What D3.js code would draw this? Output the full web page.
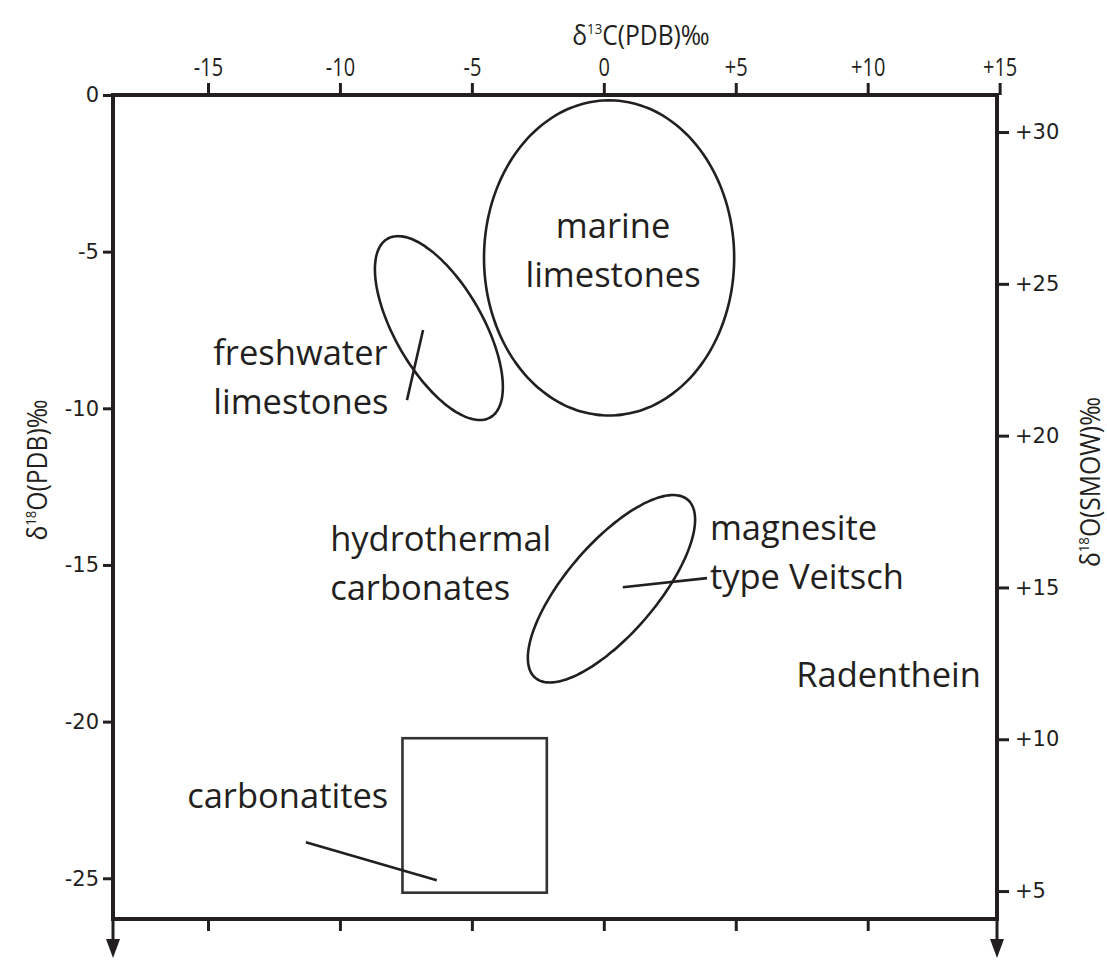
<!DOCTYPE html>
<html>
<head>
<meta charset="utf-8">
<script src="https://cdn.jsdelivr.net/npm/d3@7"></script>
<style>
  body { margin: 0; background: #fff; }
  svg { display: block; }
</style>
</head>
<body>
<svg width="1107" height="963"></svg>
<script>
var svg = d3.select("svg");

// axes
var xDomain = [-18.6, 14.9];        // d13C PDB
var yDomain = [0, -26.3];           // d18O PDB
var smowDomain = [31.22, 4.08];     // d18O SMOW
var xTicks = [-15, -10, -5, 0, 5, 10, 15];
var yTicks = [0, -5, -10, -15, -20, -25];
var smowTicks = [30, 25, 20, 15, 10, 5];

// fields: center, semi-axis vectors (data units)
var ellipses = [
    { name: "marine", c: [0.2, -5.2], u: [4.74, 0], v: [0, 5.03] },
    { name: "freshwater", c: [-6.25, -7.44], u: [1.95, -2.85], v: [-1.44, -0.70] },
    { name: "magnesite", c: [0.29, -15.76], u: [2.89, 2.84], v: [1.30, -0.94] }
];
var boxes = [
    { name: "carbonatites", x: [-7.63, -2.16], y: [-20.53, -25.46] }
];
var pointers = [
    [[-6.85, -7.50], [-7.46, -9.74]],
    [[0.72, -15.71], [3.91, -15.42]],
    [[-11.29, -23.85], [-6.33, -25.06]]
];
var labels = [
    { lines: ["marine", "limestones"], at: [0.35, -4.55], anchor: "middle" },
    { lines: ["freshwater", "limestones"], at: [-14.8, -8.62], anchor: "start" },
    { lines: ["hydrothermal", "carbonates"], at: [-10.37, -14.55], anchor: "start" },
    { lines: ["magnesite", "type Veitsch"], at: [4.02, -14.2], anchor: "start" },
    { lines: ["Radenthein"], at: [7.29, -18.9], anchor: "start" },
    { lines: ["carbonatites"], at: [-15.79, -22.76], anchor: "start" }
];

var mLeft = 113, mRight = 997, mTop = 95, mBottom = 919;

var x = d3.scaleLinear().domain(xDomain).range([mLeft, mRight]);
var y = d3.scaleLinear().domain(yDomain).range([mTop, mBottom]);
var ySmow = d3.scaleLinear().domain(smowDomain).range([mTop, mBottom]);

var ink = "#231f20";
var sans = "'Open Sans', sans-serif";

// axes
var fmtSigned = function (d) { return d > 0 ? "+" + d : "" + d; };

var gTop = svg.append("g").attr("transform", "translate(0," + mTop + ")")
    .call(d3.axisTop(x).tickValues(xTicks).tickFormat(fmtSigned).tickSize(12).tickSizeOuter(0).tickPadding(7));
gTop.selectAll("text")
    .style("font-family", sans).style("font-size", "25px").style("fill", ink)
    .attr("transform", "scale(0.8,1)");

var gBottom = svg.append("g").attr("transform", "translate(0," + mBottom + ")")
    .call(d3.axisBottom(x).tickValues(xTicks.slice(0, -1)).tickFormat("").tickSize(12).tickSizeOuter(0));

var gLeft = svg.append("g").attr("transform", "translate(" + mLeft + ",0)")
    .call(d3.axisLeft(y).tickValues(yTicks).tickFormat(d3.format("d")).tickSize(10).tickSizeOuter(0).tickPadding(4));
gLeft.selectAll("text").text(function (d) { return "" + d; })
    .style("font-family", "'DejaVu Sans', sans-serif").style("font-size", "21px").style("fill", ink);

var gRight = svg.append("g").attr("transform", "translate(" + mRight + ",0)")
    .call(d3.axisRight(ySmow).tickValues(smowTicks).tickFormat(fmtSigned).tickSize(12).tickSizeOuter(0).tickPadding(6));
gRight.selectAll("text")
    .style("font-family", "'DejaVu Sans', sans-serif").style("font-size", "21px").style("fill", ink);

svg.selectAll(".domain").remove();
svg.selectAll(".tick line").attr("stroke", ink).attr("stroke-width", 3);

// frame
svg.append("rect")
    .attr("x", mLeft).attr("y", mTop)
    .attr("width", mRight - mLeft).attr("height", mBottom - mTop)
    .attr("fill", "none").attr("stroke", ink).attr("stroke-width", 4);

// down arrows
[mLeft, mRight].forEach(function (ax) {
    svg.append("line")
        .attr("x1", ax).attr("x2", ax).attr("y1", mBottom).attr("y2", 945)
        .attr("stroke", ink).attr("stroke-width", 3);
    svg.append("path")
        .attr("d", "M" + (ax - 7) + ",939L" + (ax + 7) + ",939L" + ax + ",958Z")
        .attr("fill", ink);
});

// fields
var ellipsePath = function (e) {
    var pts = d3.range(0, 360, 3).map(function (deg) {
        var t = deg * Math.PI / 180;
        return [x(e.c[0] + Math.cos(t) * e.u[0] + Math.sin(t) * e.v[0]),
                y(e.c[1] + Math.cos(t) * e.u[1] + Math.sin(t) * e.v[1])];
    });
    return d3.line().curve(d3.curveCardinalClosed)(pts);
};

svg.append("g").selectAll("path")
    .data(ellipses).enter().append("path")
    .attr("d", ellipsePath)
    .attr("fill", "none").attr("stroke", ink).attr("stroke-width", 2.6);

svg.append("g").selectAll("rect")
    .data(boxes).enter().append("rect")
    .attr("x", function (d) { return x(d.x[0]); })
    .attr("y", function (d) { return y(d.y[0]); })
    .attr("width", function (d) { return x(d.x[1]) - x(d.x[0]); })
    .attr("height", function (d) { return y(d.y[1]) - y(d.y[0]); })
    .attr("fill", "none").attr("stroke", "#333").attr("stroke-width", 2.6);

svg.append("g").selectAll("line")
    .data(pointers).enter().append("line")
    .attr("x1", d => x(d[0][0])).attr("y1", d => y(d[0][1]))
    .attr("x2", d => x(d[1][0])).attr("y2", d => y(d[1][1]))
    .attr("stroke", ink).attr("stroke-width", 2.6);

// labels
var lab = svg.append("g").selectAll("text")
    .data(labels).enter().append("text")
    .style("font-family", sans).style("font-size", "34.5px").style("fill", ink)
    .attr("text-anchor", d => d.anchor)
    .attr("x", d => x(d.at[0]))
    .attr("y", d => y(d.at[1]));
lab.selectAll("tspan")
    .data(d => d.lines.map(function (s) { return { s: s, d: d }; }))
    .enter().append("tspan")
    .attr("x", d => x(d.d.at[0]))
    .attr("dy", (d, i) => i === 0 ? 0 : 49)
    .text(d => d.s);

// axis titles
var titles = [
    { sup: "13", rest: "C(PDB)‰", tr: "translate(641,45) scale(0.88,1)" },
    { sup: "18", rest: "O(PDB)‰", tr: "translate(47,470) rotate(-90) scale(0.88,1)" },
    { sup: "18", rest: "O(SMOW)‰", tr: "translate(1100,482) rotate(-90) scale(0.88,1)" }
];
titles.forEach(function (t) {
    var txt = svg.append("text")
        .style("font-family", sans).style("font-size", "28px").style("fill", ink)
        .attr("transform", t.tr).attr("text-anchor", "middle");
    txt.append("tspan").text("δ");
    txt.append("tspan").attr("dy", -11).style("font-size", "15px").text(t.sup);
    txt.append("tspan").attr("dy", 11).text(t.rest);
});
</script>
</body>
</html>
